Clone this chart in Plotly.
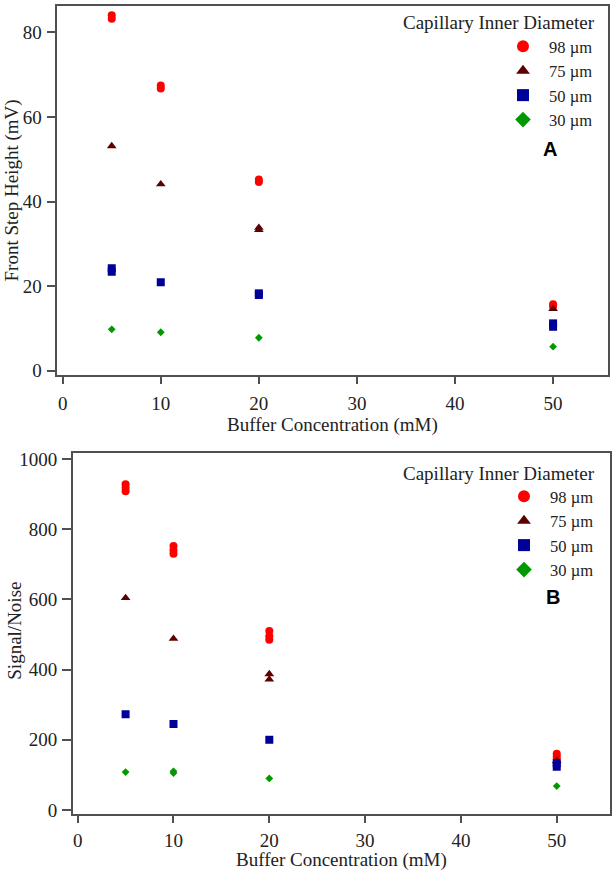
import plotly.graph_objects as go

# ---------------- data ----------------
# Panel A: Front step height (mV) vs buffer concentration (mM)
a98_x = [5, 5, 10, 10, 20, 20, 50, 50]
a98_y = [83.2, 84.0, 66.7, 67.4, 44.6, 45.2, 15.2, 15.7]
a75_x = [5, 10, 20, 20, 50]
a75_y = [53.1, 44.1, 33.3, 33.8, 14.6]
a50_x = [5, 5, 10, 20, 20, 50, 50]
a50_y = [23.4, 24.2, 20.9, 17.9, 18.3, 10.4, 11.2]
a30_x = [5, 10, 20, 50]
a30_y = [9.8, 9.1, 7.8, 5.7]

# Panel B: Signal/Noise vs buffer concentration (mM)
b98_x = [5, 5, 5, 10, 10, 10, 20, 20, 20, 50, 50, 50]
b98_y = [908, 918, 928, 730, 740, 752, 485, 495, 510, 145, 152, 160]
b75_x = [5, 10, 20, 20, 50]
b75_y = [604, 488, 372, 387, 140]
b50_x = [5, 10, 20, 50, 50]
b50_y = [273, 245, 200, 123, 133]
b30_x = [5, 10, 10, 20, 50]
b30_y = [108, 105, 110, 90, 68]

series_names = ["98 µm", "75 µm", "50 µm", "30 µm"]
series_colors = ["#ff0000", "#5c0000", "#000099", "#009a00"]
series_symbols = ["circle", "triangle-up", "square", "diamond"]
series_sizes = [8, 8.5, 8, 6]

x_ticks = [0, 10, 20, 30, 40, 50]
ya_ticks = [0, 20, 40, 60, 80]
yb_ticks = [0, 200, 400, 600, 800, 1000]

SERIF = "Liberation Serif, Times New Roman, serif"
AXC = "#505050"

fig = go.Figure()

panelA = [(a98_x, a98_y), (a75_x, a75_y), (a50_x, a50_y), (a30_x, a30_y)]
panelB = [(b98_x, b98_y), (b75_x, b75_y), (b50_x, b50_y), (b30_x, b30_y)]

for i, (xs, ys) in enumerate(panelA):
    fig.add_trace(go.Scatter(
        x=xs, y=ys, mode="markers", name=series_names[i],
        marker=dict(color=series_colors[i], symbol=series_symbols[i],
                    size=series_sizes[i], line=dict(width=0)),
        xaxis="x", yaxis="y", legend="legend"))
for i, (xs, ys) in enumerate(panelB):
    fig.add_trace(go.Scatter(
        x=xs, y=ys, mode="markers", name=series_names[i],
        marker=dict(color=series_colors[i], symbol=series_symbols[i],
                    size=series_sizes[i], line=dict(width=0)),
        xaxis="x2", yaxis="y2", legend="legend2"))

W, H = 615, 871

def px_x(v):
    return v / W

def px_y(v):
    return 1 - v / H

axis_common = dict(
    showline=True, linecolor=AXC, linewidth=1.5, mirror=True,
    ticks="outside", tickcolor=AXC, tickwidth=1.5,
    showgrid=False, zeroline=False, automargin=False,
    tickfont=dict(family=SERIF, size=19, color="#222"),
)

legend_common = dict(xanchor="left", yanchor="top", bgcolor="rgba(0,0,0,0)",
                     borderwidth=0, itemsizing="constant", itemwidth=42,
                     font=dict(family=SERIF, size=16.5, color="#222"))

fig.update_layout(
    width=W, height=H,
    margin=dict(l=0, r=0, t=0, b=0),
    paper_bgcolor="white", plot_bgcolor="white",
    xaxis=dict(domain=[px_x(57.3), px_x(608)], range=[-0.55, 55.6],
               tickvals=x_ticks, ticklen=7, ticklabelstandoff=3,
               anchor="y", **axis_common),
    yaxis=dict(domain=[px_y(375), px_y(6)], range=[-1.0, 86.2],
               tickvals=ya_ticks, ticklen=9, ticklabelstandoff=1,
               anchor="x", **axis_common),
    xaxis2=dict(domain=[px_x(72.7), px_x(610)], range=[-0.52, 55.56],
                tickvals=x_ticks, ticklen=7, ticklabelstandoff=1,
                anchor="y2", **axis_common),
    yaxis2=dict(domain=[px_y(814.3), px_y(453.3)], range=[-12.3, 1016],
                tickvals=yb_ticks, ticklen=9, ticklabelstandoff=1,
                anchor="x2", **axis_common),
    legend=dict(x=px_x(497), y=px_y(29), **legend_common),
    legend2=dict(x=px_x(498), y=px_y(479), **legend_common),
)

ann_font = dict(family=SERIF, size=19, color="#222")
fig.add_annotation(text="Capillary Inner Diameter", xref="paper", yref="paper",
                   x=px_x(597), y=px_y(22.7), xanchor="right", yanchor="middle",
                   showarrow=False, font=ann_font)
fig.add_annotation(text="Capillary Inner Diameter", xref="paper", yref="paper",
                   x=px_x(597), y=px_y(473.3), xanchor="right", yanchor="middle",
                   showarrow=False, font=ann_font)
fig.add_annotation(text="<b>A</b>", xref="paper", yref="paper",
                   x=px_x(550), y=px_y(149), xanchor="center", yanchor="middle",
                   showarrow=False, font=dict(family="Liberation Sans, Arial, sans-serif", size=20, color="black"))
fig.add_annotation(text="<b>B</b>", xref="paper", yref="paper",
                   x=px_x(552.7), y=px_y(596.7), xanchor="center", yanchor="middle",
                   showarrow=False, font=dict(family="Liberation Sans, Arial, sans-serif", size=20, color="black"))
fig.add_annotation(text="Front Step Height (mV)", xref="paper", yref="paper",
                   x=px_x(11.5), y=px_y(191), xanchor="center", yanchor="middle",
                   textangle=-90, showarrow=False, font=ann_font)
fig.add_annotation(text="Signal/Noise", xref="paper", yref="paper",
                   x=px_x(15), y=px_y(630.7), xanchor="center", yanchor="middle",
                   textangle=-90, showarrow=False, font=ann_font)
fig.add_annotation(text="Buffer Concentration (mM)", xref="paper", yref="paper",
                   x=px_x(332), y=px_y(425), xanchor="center", yanchor="middle",
                   showarrow=False, font=ann_font)
fig.add_annotation(text="Buffer Concentration (mM)", xref="paper", yref="paper",
                   x=px_x(341), y=px_y(872), xanchor="center", yanchor="bottom",
                   borderpad=0, showarrow=False, font=ann_font)

fig.write_html("out.html")
